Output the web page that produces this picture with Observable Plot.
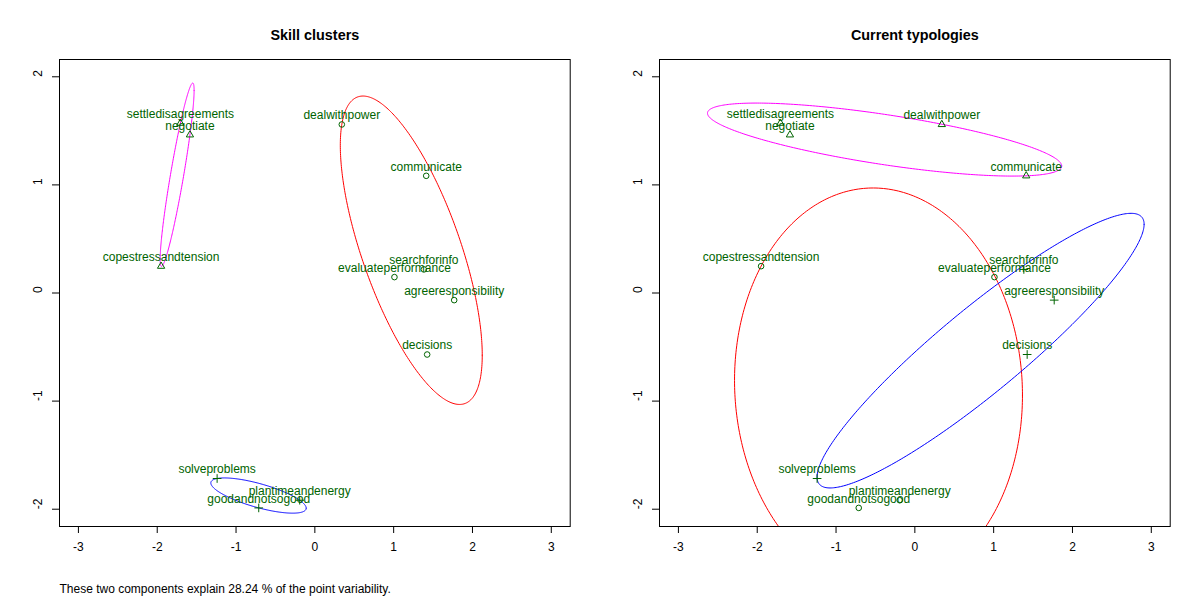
<!DOCTYPE html>
<html><head><meta charset="utf-8">
<script src="https://cdn.jsdelivr.net/npm/d3@7"></script>
<script src="https://cdn.jsdelivr.net/npm/@observablehq/plot@0.6"></script>
<style>
body{margin:0;background:#fff;}
#wrap{display:flex;width:1200px;height:600px;}
svg{font-family:"Liberation Sans", Arial, Helvetica, sans-serif;}
</style></head><body><div id="wrap"></div>
<script>
// Point labels and coordinates (component 1, component 2)
const labels = ["settledisagreements","negotiate","copestressandtension","dealwithpower","communicate","searchforinfo","evaluateperformance","agreeresponsibility","decisions","solveproblems","goodandnotsogood","plantimeandenergy"];
const comp1 = [-1.706,-1.585,-1.951,0.342,1.413,1.383,1.010,1.768,1.425,-1.240,-0.712,-0.192];
const comp2 = [1.571,1.463,0.248,1.559,1.084,0.218,0.147,-0.066,-0.569,-1.716,-1.988,-1.917];
// Cluster memberships: C = circle/red, T = triangle/magenta, P = plus/blue
const skillClusters = ["T","T","T","C","C","C","C","C","C","P","P","P"];
const currentTypologies = ["T","T","C","T","T","P","C","P","P","P","C","C"];
const groupKeys = ["C","T","P"];
const groupSymbols = {C:"circle",T:"triangle",P:"plus"};
const groupColors = {C:"#FF0000",T:"#FF00FF",P:"#0000FF"};
const xTicks = [-3,-2,-1,0,1,2,3];
const yTicks = [-2,-1,0,1,2];
const titles = ["Skill clusters","Current typologies"];
const caption = "These two components explain 28.24 % of the point variability.";

// spanning ellipse: covariance shape scaled to contain all points of the cluster
function ellipses(assign){
  const out = [];
  for (const g of groupKeys){
    const idx = assign.map((a,i)=>a===g?i:-1).filter(i=>i>=0);
    const n = idx.length;
    const mx = d3.mean(idx,i=>comp1[i]), my = d3.mean(idx,i=>comp2[i]);
    let sxx=0,syy=0,sxy=0;
    for (const i of idx){const dx=comp1[i]-mx,dy=comp2[i]-my;sxx+=dx*dx;syy+=dy*dy;sxy+=dx*dy;}
    sxx/=n;syy/=n;sxy/=n;
    const det = sxx*syy-sxy*sxy;
    let d2 = 0;
    for (const i of idx){const dx=comp1[i]-mx,dy=comp2[i]-my; d2=Math.max(d2,(syy*dx*dx-2*sxy*dx*dy+sxx*dy*dy)/det);}
    const a=sxx*d2,b=sxy*d2,c=syy*d2;
    const l11=Math.sqrt(a), l21=b/l11, l22=Math.sqrt(Math.max(0,c-l21*l21));
    for (let k=0;k<=360;k++){
      const t=k*Math.PI/180;
      out.push({g, x:mx+l11*Math.cos(t), y:my+l21*Math.cos(t)+l22*Math.sin(t)});
    }
  }
  return out;
}

function panel(title, assign, withCaption){
  const pts = labels.map((l,i)=>({label:l,x:comp1[i],y:comp2[i],g:assign[i]}));
  const ell = ellipses(assign);
  const marks = [];
  for (const g of groupKeys){
    marks.push(Plot.line(ell.filter(d=>d.g===g),{x:"x",y:"y",stroke:groupColors[g],strokeWidth:1,clip:true}));
  }
  for (const g of groupKeys){
    const r = g==="P" ? 2.9 : (g==="T" ? 2.7 : 2.8);
    marks.push(Plot.dot(pts.filter(d=>d.g===g),{x:"x",y:"y",symbol:groupSymbols[g],r,fill:"none",stroke:"#006400",strokeWidth:1}));
  }
  marks.push(Plot.text(pts,{x:"x",y:"y",text:"label",dy:-9,fill:"#006400",fontSize:12}));
  marks.push(Plot.frame({stroke:"black"}));
  marks.push(Plot.axisX({ticks:xTicks,tickSize:7,tickPadding:9,tickFormat:d=>String(d),fontSize:12,label:null}));
  marks.push(Plot.axisY({ticks:yTicks,tickSize:7,tickFormat:()=>"",label:null}));
  marks.push(Plot.text(yTicks,{y:d=>d,frameAnchor:"left",dx:-21,rotate:-90,text:d=>String(d),fontSize:12,fill:"black"}));
  marks.push(Plot.text([title],{frameAnchor:"top",dy:-30,fontSize:14.4,fontWeight:"bold",fill:"black"}));
  if (withCaption) marks.push(Plot.text([caption],{frameAnchor:"bottom-left",dy:66,textAnchor:"start",fontSize:12,fill:"black"}));
  return Plot.plot({
    width:600,height:600,
    marginLeft:59,marginRight:30.3,marginTop:59,marginBottom:74,
    x:{domain:[-3.24,3.24],label:null},
    y:{domain:[-2.16,2.16],label:null},
    style:{fontFamily:'"Liberation Sans", Arial, Helvetica, sans-serif',background:"white",overflow:"visible"},
    marks
  });
}
const wrap = document.getElementById("wrap");
wrap.appendChild(panel(titles[0], skillClusters, true));
wrap.appendChild(panel(titles[1], currentTypologies, false));
</script></body></html>
